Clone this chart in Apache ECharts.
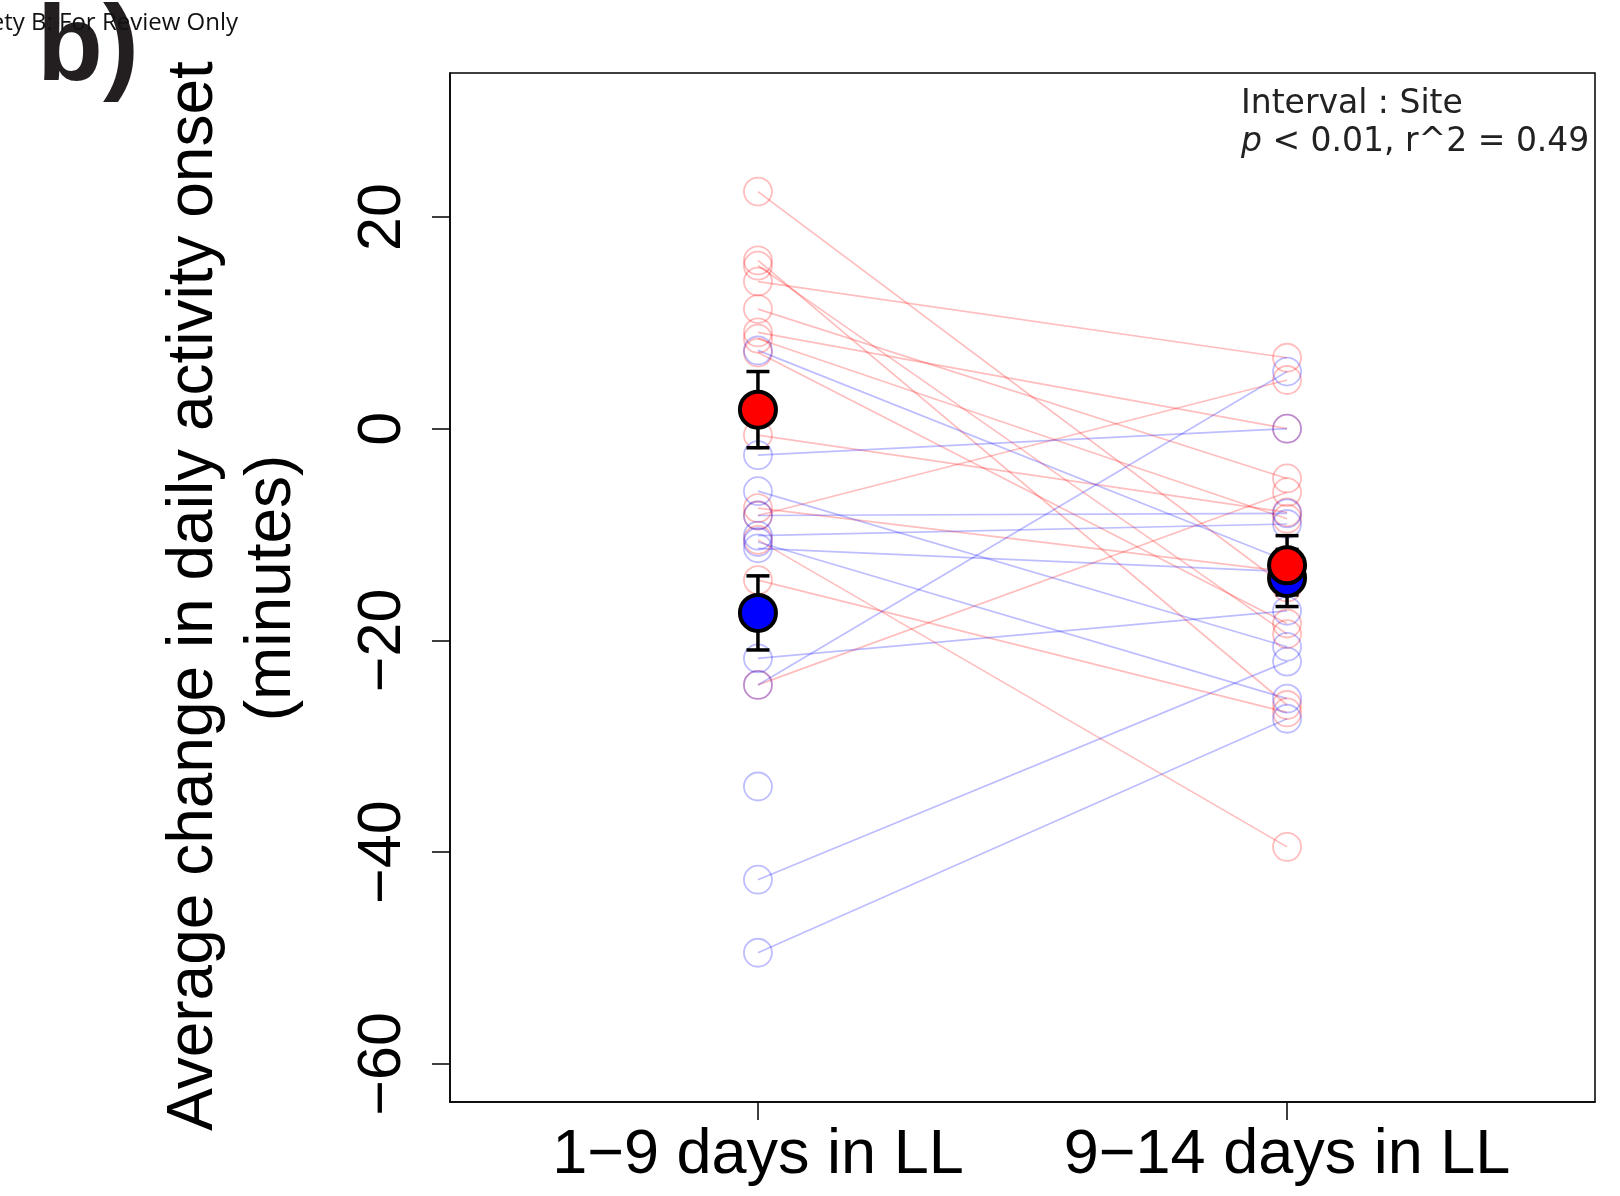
<!DOCTYPE html>
<html><head><meta charset="utf-8">
<script src="https://cdn.jsdelivr.net/npm/echarts@6/dist/echarts.min.js"></script>
<style>html,body{margin:0;padding:0;background:#fff}#c{width:1620px;height:1196px}</style>
</head><body><div id="c"></div>
<script>
// ---- data ----
const categories = ['1\u22129 days in LL', '9\u221214 days in LL'];
const catPos = [1, 2];
const yTicks = [-60, -40, -20, 0, 20];
// paired individual values (start = 1-9 days, end = 9-14 days)
const redStart = [22.4, 15.9, 15.4, 13.9, 11.3, 9.1, 8.5, 7.2, -0.6, -7.5, -8.2, -10.5, -14.3, -24.2];
const redEnd   = [-15.0, -26.1, -19.4, 6.7, -4.7, 0.0, -8.5, -18.4, -7.9, -13.5, 4.6, -39.5, -26.8, -6.0];
const blueStart = [7.4, -2.5, -5.9, -8.2, -10.1, -10.7, -11.3, -21.7, -24.2, -33.8, -42.6, -49.5];
const blueEnd   = [-12.5, 0.0, -20.6, -8.0, -9.0, -25.5, -13.5, -17.2, 5.4, null, -22.0, -27.4];
// group means and standard errors
const redMean = [1.8, -12.9];
const redSE = [3.6, 2.8];
const blueMean = [-17.4, -14.1];
const blueSE = [3.5, 2.7];
const annotLine1 = 'Interval : Site';
const annotLine2 = ' < 0.01, r^2 = 0.49';

const RED_T = 'rgba(255,0,0,0.26)';
const BLUE_T = 'rgba(0,0,255,0.26)';

function pairLines(s, e) {
  const out = [];
  s.forEach((v, i) => { if (v != null && e[i] != null) out.push({ coords: [[catPos[0], v], [catPos[1], e[i]]] }); });
  return out;
}
function pts(s, e) {
  const out = [];
  s.forEach(v => { if (v != null) out.push([catPos[0], v]); });
  e.forEach(v => { if (v != null) out.push([catPos[1], v]); });
  return out;
}
function errData(m, se) { return m.map((v, i) => [catPos[i], v - se[i], v + se[i]]); }

const chart = echarts.init(document.getElementById('c'), null, { renderer: 'canvas' });
const fmt = v => (v < 0 ? '\u2212' + Math.abs(v) : String(v));

const errSeries = (m, se, name) => ({
  type: 'custom', name, silent: true, z: 5,
  data: errData(m, se),
  renderItem: (params, api) => {
    const x = api.value(0);
    const lo = api.coord([x, api.value(1)]);
    const hi = api.coord([x, api.value(2)]);
    const w = 11.5;
    const st = { stroke: '#000', lineWidth: 3.5 };
    return { type: 'group', children: [
      { type: 'line', shape: { x1: lo[0], y1: lo[1], x2: hi[0], y2: hi[1] }, style: st },
      { type: 'line', shape: { x1: lo[0] - w, y1: lo[1], x2: lo[0] + w, y2: lo[1] }, style: st },
      { type: 'line', shape: { x1: hi[0] - w, y1: hi[1], x2: hi[0] + w, y2: hi[1] }, style: st }
    ]};
  }
});

chart.setOption({
  animation: false,
  backgroundColor: '#fff',
  grid: { left: 450, top: 73, width: 1145, height: 1029, show: true, borderColor: '#000', borderWidth: 1.5, backgroundColor: 'transparent' },
  xAxis: {
    type: 'value', min: 0.418, max: 2.582,
    axisLine: { show: true, onZero: false, lineStyle: { color: '#000', width: 1.5 } },
    axisTick: { show: true, length: 18, lineStyle: { color: '#000', width: 1.5 }, customValues: catPos },
    axisLabel: { customValues: catPos, formatter: v => categories[catPos.indexOf(v)] || '', fontSize: 63, fontFamily: 'Liberation Sans', color: '#000', margin: 22 },
    splitLine: { show: false }
  },
  yAxis: {
    type: 'value', min: -63.6, max: 33.6,
    axisLine: { show: true, onZero: false, lineStyle: { color: '#000', width: 1.5 } },
    axisTick: { show: true, length: 18, lineStyle: { color: '#000', width: 1.5 }, customValues: yTicks },
    axisLabel: { customValues: yTicks, formatter: fmt, rotate: 90, fontSize: 61, fontFamily: 'Liberation Sans', color: '#000', margin: 36 },
    splitLine: { show: false }
  },
  series: [
    { type: 'lines', coordinateSystem: 'cartesian2d', silent: true, z: 2, data: pairLines(redStart, redEnd),
      lineStyle: { color: RED_T, width: 1.7, opacity: 1 } },
    { type: 'lines', coordinateSystem: 'cartesian2d', silent: true, z: 2, data: pairLines(blueStart, blueEnd),
      lineStyle: { color: BLUE_T, width: 1.7, opacity: 1 } },
    { type: 'scatter', silent: true, z: 3, symbol: 'circle', symbolSize: 28, data: pts(redStart, redEnd),
      itemStyle: { color: 'rgba(0,0,0,0)', borderColor: RED_T, borderWidth: 1.8, opacity: 1 } },
    { type: 'scatter', silent: true, z: 3, symbol: 'circle', symbolSize: 28, data: pts(blueStart, blueEnd),
      itemStyle: { color: 'rgba(0,0,0,0)', borderColor: BLUE_T, borderWidth: 1.8, opacity: 1 } },
    errSeries(blueMean, blueSE, 'blueErr'),
    errSeries(redMean, redSE, 'redErr'),
    { type: 'scatter', silent: true, z: 6, symbol: 'circle', symbolSize: 36, data: blueMean.map((v, i) => [catPos[i], v]),
      itemStyle: { color: '#0000ff', borderColor: '#000', borderWidth: 4, opacity: 1 } },
    { type: 'scatter', silent: true, z: 7, symbol: 'circle', symbolSize: 36, data: redMean.map((v, i) => [catPos[i], v]),
      itemStyle: { color: '#ff0000', borderColor: '#000', borderWidth: 4, opacity: 1 } }
  ],
  graphic: [
    { type: 'text', x: 194, y: 596, rotation: Math.PI / 2, z: 10,
      style: { text: 'Average change in daily activity onset', font: '64px "Liberation Sans"', fill: '#000', textAlign: 'center', textVerticalAlign: 'middle' } },
    { type: 'text', x: 272, y: 588, rotation: Math.PI / 2, z: 10,
      style: { text: '(minutes)', font: '64px "Liberation Sans"', fill: '#000', textAlign: 'center', textVerticalAlign: 'middle' } },
    { type: 'text', x: 37, y: 50, z: 10,
      style: { text: 'b)', font: 'bold 108px "Liberation Sans"', fill: '#231f20', textAlign: 'left', textVerticalAlign: 'middle' } },
    { type: 'text', x: 238, y: 23, z: 11,
      style: { text: 'Proceedings of the Royal Society B: For Review Only', font: '24px "Open Sans"', fill: '#111', textAlign: 'right', textVerticalAlign: 'middle' } },
    { type: 'text', x: 1241, y: 104, z: 10,
      style: { text: annotLine1, font: '33px "DejaVu Sans"', fill: '#222', textAlign: 'left', textVerticalAlign: 'middle' } },
    { type: 'text', x: 1241, y: 142, z: 10,
      style: { text: '{i|p}' + annotLine2, font: '33px "DejaVu Sans"', fill: '#222', textAlign: 'left', textVerticalAlign: 'middle',
        rich: { i: { font: 'italic 33px "DejaVu Sans"', fill: '#222' } } } }
  ]
});
</script>
</body></html>
